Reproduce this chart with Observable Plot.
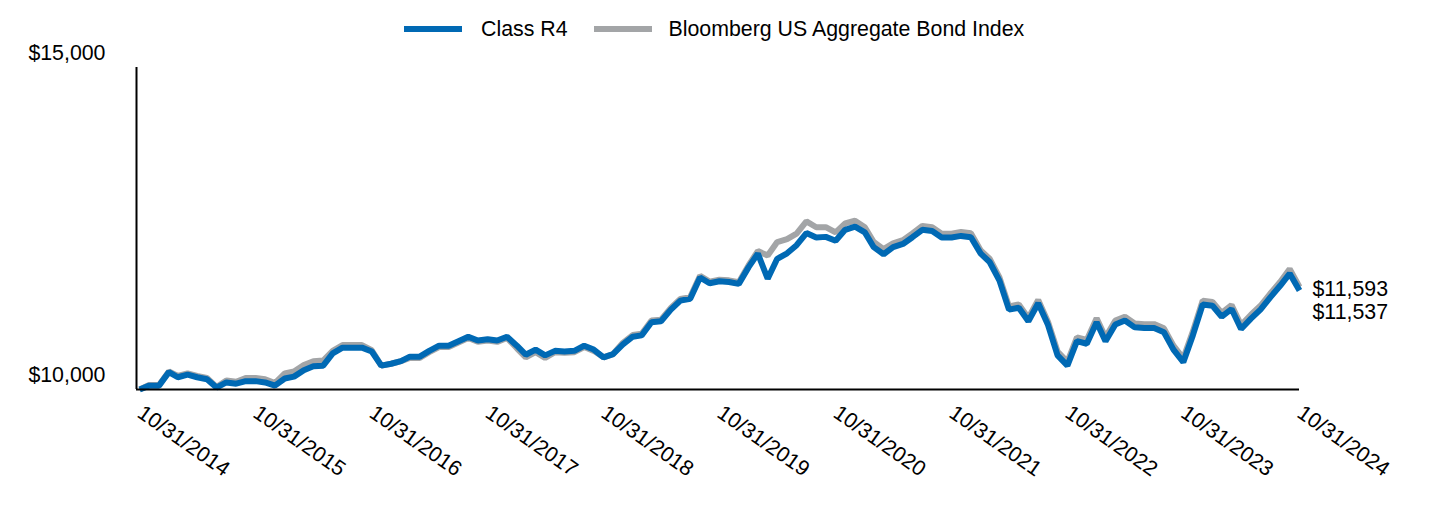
<!DOCTYPE html>
<html>
<head>
<meta charset="utf-8">
<script src="https://cdn.jsdelivr.net/npm/d3@7"></script>
<script src="https://cdn.jsdelivr.net/npm/@observablehq/plot@0.6"></script>
<style>
  body { margin: 0; background: #fff; font-family: "Liberation Sans", Arial, sans-serif; }
  #legend { height: 40px; box-sizing: border-box; padding-top: 17px; padding-left: 404px; display: flex; align-items: center; font-size: 21.33px; line-height: 22px; color: #000; }
  #legend .sw { width: 58px; height: 6px; display: inline-block; }
  #legend .lab { display: inline-block; }
</style>
</head>
<body>
<div id="legend"></div>
<div id="chart"></div>
<script>
const seriesNames = ["Class R4", "Bloomberg US Aggregate Bond Index"];
const seriesColors = ["#0069b4", "#a3a5a7"];

const classR4 = [
  10000, 10060, 10060, 10270, 10190, 10230, 10190, 10160, 10030, 10110, 10090, 10130,
  10130, 10110, 10060, 10170, 10200, 10300, 10360, 10370, 10560, 10650, 10650, 10650,
  10590, 10370, 10400, 10440, 10510, 10510, 10600, 10680, 10680, 10750, 10820, 10760,
  10780, 10760, 10820, 10680, 10540, 10620, 10530, 10600, 10590, 10600, 10680, 10620,
  10500, 10550, 10700, 10820, 10840, 11045, 11060, 11240, 11380, 11410, 11740, 11650,
  11680, 11670, 11640, 11900, 12110, 11720, 12030, 12115, 12240, 12430, 12360, 12370,
  12310, 12480, 12530, 12440, 12210, 12100, 12210, 12260, 12365, 12480, 12460, 12360,
  12360, 12385, 12365, 12110, 11980, 11690, 11240, 11270, 11060, 11340, 11000, 10530,
  10370, 10750, 10710, 11045, 10750, 11010, 11070, 10965, 10955, 10955, 10890, 10620,
  10425, 10840, 11320, 11300, 11130, 11250, 10940, 11100, 11240, 11430, 11610, 11800,
  11537
];

const bbgAgg = [
  10000, 10070, 10070, 10280, 10210, 10250, 10210, 10180, 10040, 10140, 10120, 10180,
  10180, 10160, 10100, 10250, 10280, 10380, 10440, 10450, 10600, 10690, 10690, 10690,
  10610, 10370, 10400, 10440, 10490, 10490, 10580, 10660, 10660, 10730, 10800, 10740,
  10760, 10740, 10800, 10640, 10500, 10580, 10490, 10580, 10570, 10580, 10660, 10600,
  10500, 10550, 10725, 10845, 10865, 11070, 11085, 11265, 11405, 11435, 11765, 11675,
  11705, 11695, 11665, 11930, 12150, 12080, 12290, 12335, 12420, 12610, 12520, 12520,
  12440, 12580, 12620, 12520, 12290, 12180, 12270, 12320, 12425, 12540, 12520, 12420,
  12420, 12445, 12425, 12160, 12030, 11740, 11290, 11320, 11110, 11390, 11050, 10590,
  10430, 10810, 10770, 11105, 10810, 11070, 11130, 11025, 11015, 11015, 10950, 10680,
  10485, 10900, 11380, 11360, 11190, 11310, 11000, 11160, 11300, 11490, 11670, 11870,
  11593
];

const xTickLabels = ["10/31/2014","10/31/2015","10/31/2016","10/31/2017","10/31/2018","10/31/2019",
                     "10/31/2020","10/31/2021","10/31/2022","10/31/2023","10/31/2024"];
const yTicks = [10000, 15000];
const yTickLabels = ["$10,000", "$15,000"];
const endLabels = ["$11,593", "$11,537"];

// month-end dates, Oct 2014 .. Oct 2024
const dates = classR4.map((_, i) => new Date(Date.UTC(2014, 10 + i, 1) - 86400000));
const xTickDates = xTickLabels.map(s => { const [m, d, y] = s.split("/").map(Number); return new Date(Date.UTC(y, m - 1, d)); });

const rows = [];
dates.forEach((d, i) => {
  rows.push({date: d, value: bbgAgg[i], series: seriesNames[1]});
});
dates.forEach((d, i) => {
  rows.push({date: d, value: classR4[i], series: seriesNames[0]});
});

// legend
const leg = document.getElementById("legend");
seriesNames.forEach((n, i) => {
  const sw = document.createElement("span");
  sw.className = "sw"; sw.style.background = seriesColors[i];
  sw.style.marginRight = "19px";
  const lab = document.createElement("span");
  lab.className = "lab"; lab.textContent = n;
  lab.style.marginRight = i === 0 ? "26px" : "0";
  if (i === 1) sw.style.marginRight = "17px";
  leg.appendChild(sw); leg.appendChild(lab);
});

const font = "Liberation Sans, Arial, sans-serif";
const fs = 21.33;
const x0 = new Date(Date.UTC(2014, 9, 21));
const last = dates[dates.length - 1];

const chart = Plot.plot({
  width: 1440,
  height: 476,
  marginTop: 27,
  marginBottom: 127,
  marginLeft: 136,
  marginRight: 141,
  style: {fontFamily: font, fontSize: fs + "px", color: "#000", background: "#fff"},
  x: {type: "utc", domain: [x0, last]},
  y: {domain: [10000, 15000]},
  color: {domain: seriesNames, range: seriesColors},
  marks: [
    Plot.line(rows, {x: "date", y: "value", z: "series", stroke: "series", strokeWidth: 6, strokeLinejoin: "miter", strokeLinecap: "butt"}),
    Plot.ruleY([10000], {stroke: "#000", strokeWidth: 2}),
    Plot.ruleX([x0], {y1: 10000, y2: 15000, stroke: "#000", strokeWidth: 2}),
    Plot.axisY(yTicks, {tickSize: 0, tickPadding: 31, dy: -14, fontSize: fs, fill: "#000", label: null,
      tickFormat: d => yTickLabels[yTicks.indexOf(d)]}),
    Plot.axisX(xTickDates, {tickSize: 0, tickPadding: 14, tickRotate: 35, textAnchor: "start", lineAnchor: "top",
      dx: 5, fontSize: fs, fill: "#000", label: null,
      tickFormat: d => xTickLabels[xTickDates.findIndex(t => +t === +d)]}),
    Plot.text([bbgAgg[bbgAgg.length - 1]], {x: () => last, y: d => d, text: () => endLabels[0],
      textAnchor: "start", dx: 13, dy: 2, fontSize: fs, fill: "#000"}),
    Plot.text([classR4[classR4.length - 1]], {x: () => last, y: d => d, text: () => endLabels[1],
      textAnchor: "start", dx: 13, dy: 22, fontSize: fs, fill: "#000"})
  ]
});
document.getElementById("chart").appendChild(chart);
</script>
</body>
</html>
